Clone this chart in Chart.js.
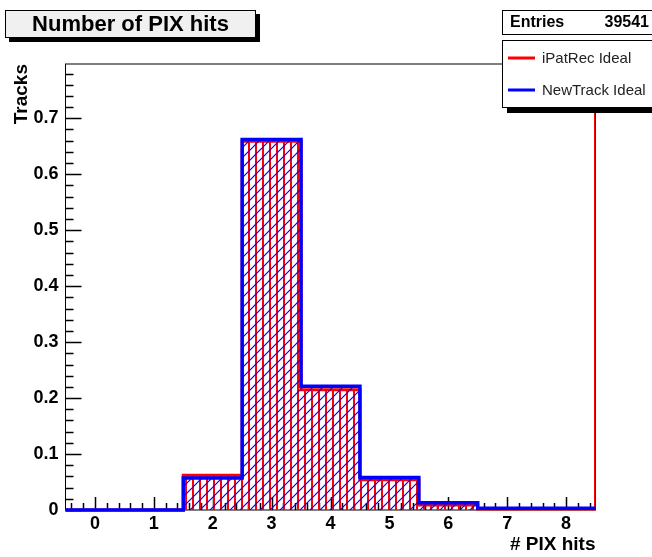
<!DOCTYPE html>
<html>
<head>
<meta charset="utf-8">
<script src="https://cdn.jsdelivr.net/npm/chart.js@4.4.1/dist/chart.umd.min.js"></script>
<style>
  html, body { margin: 0; padding: 0; background: #fff; }
</style>
</head>
<body>
<canvas id="c" width="652" height="557"></canvas>
<script>
// bin centres (# PIX hits), one bin per integer
const binCenters = [0, 1, 2, 3, 4, 5, 6, 7, 8];
// fraction of tracks per bin
const ipatRec = [0, 0, 0.062, 0.659, 0.215, 0.054, 0.009, 0.002, 0.002];
const newTrack = [0, 0, 0.057, 0.662, 0.221, 0.058, 0.013, 0.003, 0.003];
// the iPatRec outline shoots off the top at the last bin edge
const ipatRecLastEdge = 1.0;
const xTicks = [0, 1, 2, 3, 4, 5, 6, 7, 8];
const yTicks = [0, 0.1, 0.2, 0.3, 0.4, 0.5, 0.6, 0.7];
const entries = 39541;
const titleText = "Number of PIX hits";

const FONT = "'Liberation Sans', Arial, Helvetica, sans-serif";
const ctx = document.getElementById("c").getContext("2d");

//ROOT style hatching
function hatch(kind, color){
    const c = document.createElement("canvas");
    const g = c.getContext("2d");
    if(kind === "vertical"){
        c.width = 7; c.height = 7;
        g.fillStyle = color;
        g.fillRect(3, 0, 2, 7);
    } else {
        c.width = 10; c.height = 10;
        g.strokeStyle = color;
        g.lineWidth = 1.2;
        g.beginPath();
        g.moveTo(-1, 11); g.lineTo(11, -1);
        g.moveTo(-1, 1); g.lineTo(1, -1);
        g.moveTo(9, 11); g.lineTo(11, 9);
        g.stroke();
    }
    return ctx.createPattern(c, "repeat");
}

//histogram outline: one point per bin low edge, plus the last upper edge
//(stepped "before" keeps each value flat until the next edge)
function stepPoints(vals, lastY){
    const pts = vals.map((v, i) => ({x: binCenters[i] - 0.5, y: v}));
    pts.push({x: binCenters[binCenters.length - 1] + 0.5, y: lastY});
    return pts;
}

const rootDecor = {
    id: "rootDecor",
    beforeDatasetsDraw(chart){
        const {ctx, chartArea: a, scales: {x, y}} = chart;
        ctx.save();
        ctx.strokeStyle = "#000";
        ctx.lineWidth = 1;
        ctx.strokeRect(a.left, a.top, a.right - a.left, a.bottom - a.top);
        ctx.lineWidth = 1.5;
        ctx.beginPath();
        //y ticks, 5 subdivisions
        const ym = (yTicks[1] - yTicks[0]) / 5;
        for(let k = 0; k * ym <= y.max + 1e-9; k++){
            const py = Math.round(y.getPixelForValue(k * ym)) + 0.5;
            const len = k % 5 === 0 ? 16 : 8;
            ctx.moveTo(a.left, py); ctx.lineTo(a.left + len, py);
        }
        //x ticks
        const xm = (xTicks[1] - xTicks[0]) / 5;
        for(let k = Math.ceil(x.min / xm); k * xm <= x.max + 1e-9; k++){
            const px = Math.round(x.getPixelForValue(k * xm)) + 0.5;
            const len = k % 5 === 0 ? 13 : 7;
            ctx.moveTo(px, a.bottom); ctx.lineTo(px, a.bottom - len);
        }
        ctx.stroke();
        ctx.restore();
    },
    afterDraw(chart){
        const ctx = chart.ctx;
        ctx.save();
        //title box
        ctx.fillStyle = "#000";
        ctx.fillRect(9, 14, 251, 28);
        ctx.fillStyle = "#f0f0f0";
        ctx.fillRect(5, 10, 251, 28);
        ctx.strokeStyle = "#000";
        ctx.lineWidth = 1;
        ctx.strokeRect(5.5, 10.5, 250, 27);
        ctx.fillStyle = "#000";
        ctx.font = "bold 22px " + FONT;
        ctx.textAlign = "center";
        ctx.textBaseline = "middle";
        ctx.fillText(titleText, 130.5, 25);

        //stats box
        ctx.fillStyle = "#fff";
        ctx.fillRect(502, 10, 160, 25);
        ctx.strokeRect(502.5, 10.5, 160, 24);
        ctx.fillStyle = "#000";
        ctx.font = "bold 16px " + FONT;
        ctx.textAlign = "left";
        ctx.fillText("Entries", 510, 23);
        ctx.textAlign = "right";
        ctx.fillText(String(entries), 649, 23);

        //legend box
        ctx.fillStyle = "#000";
        ctx.fillRect(507, 45, 160, 68);
        ctx.fillStyle = "#fff";
        ctx.fillRect(502, 40, 160, 68);
        ctx.strokeRect(502.5, 40.5, 160, 67);
        ctx.font = "15px " + FONT;
        ctx.textAlign = "left";
        chart.data.datasets.forEach((ds, i) => {
            const ly = 58 + i * 32;
            ctx.strokeStyle = ds.borderColor;
            ctx.lineWidth = 3;
            ctx.beginPath();
            ctx.moveTo(508, ly); ctx.lineTo(535, ly);
            ctx.stroke();
            ctx.fillStyle = "#222";
            ctx.fillText(ds.label, 542, ly + 1);
        });
        ctx.restore();
    }
};

new Chart(ctx, {
    type: "line",
    data: {
        datasets: [{
            label: "iPatRec Ideal",
            data: stepPoints(ipatRec, ipatRecLastEdge),
            borderColor: "#ff0000",
            borderWidth: 3,
            backgroundColor: hatch("vertical", "#ff0000"),
            fill: "origin",
            stepped: "before",
            pointRadius: 0,
            clip: {left: 5, top: 0, right: 0, bottom: 5},
            order: 2
        }, {
            label: "NewTrack Ideal",
            data: stepPoints(newTrack, newTrack[newTrack.length - 1]),
            borderColor: "#0000ff",
            borderWidth: 3.5,
            backgroundColor: hatch("diagonal", "#0000ff"),
            fill: "origin",
            stepped: "before",
            pointRadius: 0,
            clip: {left: 5, top: 0, right: 0, bottom: 5},
            order: 1
        }]
    },
    options: {
        responsive: false,
        animation: false,
        layout: {padding: {left: 0, right: 56.5, top: 64, bottom: 0}},
        plugins: {
            legend: {display: false},
            tooltip: {enabled: false}
        },
        scales: {
            x: {
                type: "linear",
                min: -0.5,
                max: 8.5,
                afterBuildTicks: s => { s.ticks = xTicks.map(v => ({value: v})); },
                afterFit: s => { s.height = 47; },
                grid: {display: false, drawTicks: false},
                border: {display: false},
                ticks: {
                    autoSkip: false,
                    maxRotation: 0,
                    padding: 3,
                    color: "#000",
                    font: {family: FONT, size: 18, weight: "bold"}
                },
                title: {
                    display: true,
                    text: "# PIX hits",
                    align: "end",
                    color: "#000",
                    font: {family: FONT, size: 19, weight: "bold"},
                    padding: {top: 0, bottom: 1}
                }
            },
            y: {
                min: 0,
                max: 0.797,
                afterBuildTicks: s => { s.ticks = yTicks.map(v => ({value: v})); },
                afterFit: s => { s.width = 65.5; },
                grid: {display: false, drawTicks: false},
                border: {display: false},
                ticks: {
                    padding: 7,
                    color: "#000",
                    font: {family: FONT, size: 18, weight: "bold"},
                    callback: v => v === 0 ? "0" : v.toFixed(1)
                },
                title: {
                    display: true,
                    text: "Tracks",
                    align: "end",
                    color: "#000",
                    font: {family: FONT, size: 19, weight: "bold"},
                    padding: {top: 10, bottom: 0}
                }
            }
        }
    },
    plugins: [rootDecor]
});
</script>
</body>
</html>
